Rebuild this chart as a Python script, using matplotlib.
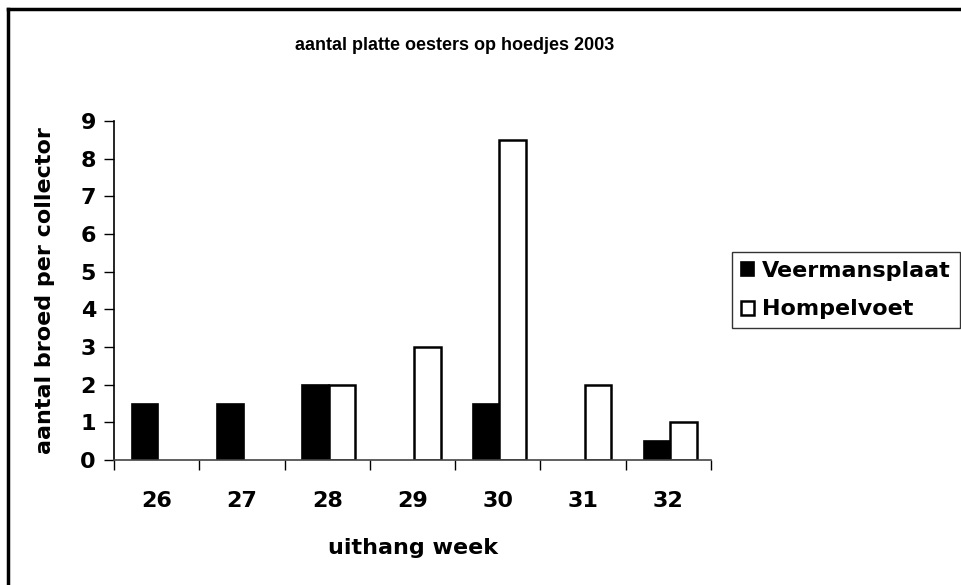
import numpy as np
import matplotlib
matplotlib.use("Agg")
import matplotlib.pyplot as plt
from matplotlib.lines import Line2D

plt.rcParams["font.family"] = ["DejaVu Sans"]
plt.rcParams["font.weight"] = "bold"

# data
weeks = ["26", "27", "28", "29", "30", "31", "32"]
veermansplaat = [1.5, 1.5, 2, 0, 1.5, 0, 0.5]
hompelvoet = [0, 0, 2, 3, 8.5, 2, 1]
y_ticks = list(range(0, 10))

fig = plt.figure(figsize=(9.62, 5.85), dpi=100)
ax = fig.add_axes([114 / 962, 1 - 460 / 585, (711 - 114) / 962, (460 - 121) / 585])

x = np.arange(len(weeks))
w = 0.31
# empty bars get no outline, like the original
edges_v = ["black" if v > 0 else "none" for v in veermansplaat]
edges_h = ["black" if v > 0 else "none" for v in hompelvoet]
ax.bar(x - w + 0.02, veermansplaat, width=w, align="edge", color="black",
       edgecolor=edges_v, linewidth=1.2, label="Veermansplaat")
ax.bar(x + 0.02, hompelvoet, width=w, align="edge", color="white",
       edgecolor=edges_h, linewidth=1.8, label="Hompelvoet")

ax.set_xlim(-0.5, len(weeks) - 0.5)
ax.set_ylim(0, 9)
ax.set_yticks(y_ticks)
ax.set_yticklabels([str(t) for t in y_ticks], fontsize=16, fontweight="bold")
ax.set_xticks(x)
ax.set_xticklabels(weeks, fontsize=16, fontweight="bold")
ax.set_xticks(np.arange(len(weeks) + 1) - 0.5, minor=True)
ax.tick_params(axis="x", which="major", length=0, pad=22)
ax.tick_params(axis="x", which="minor", length=7, width=1, direction="out")
ax.tick_params(axis="y", length=7, width=1, direction="out", pad=6)

for s in ["top", "right"]:
    ax.spines[s].set_visible(False)
ax.spines["left"].set_linewidth(1.2)
ax.spines["bottom"].set_linewidth(1.2)
ax.spines["bottom"].set_color("#444444")

ax.set_xlabel("uithang week", fontsize=16, fontweight="bold", va="center")
ax.xaxis.set_label_coords(0.5, (460 - 548) / 339)
ax.set_ylabel("aantal broed per collector", fontsize=16, fontweight="bold", va="center")
ax.yaxis.set_label_coords((45 - 114) / 597, 0.5)

fig.text(455 / 962, 1 - 45 / 585, "aantal platte oesters op hoedjes 2003",
         ha="center", va="center", fontsize=13, fontweight="bold",
         family="Liberation Sans")

leg = ax.legend(loc="center left", bbox_to_anchor=(732 / 962, 1 - 290 / 585),
                bbox_transform=fig.transFigure, frameon=True, fancybox=False,
                prop={"size": 16, "weight": "bold"}, handlelength=0.6,
                handleheight=0.6, handletextpad=0.35, borderpad=0.4,
                labelspacing=0.85, borderaxespad=0)
leg.get_frame().set_edgecolor("black")
leg.get_frame().set_linewidth(1.0)
for h in leg.legend_handles:
    h.set_edgecolor("black")

# outer frame (left and top edges visible)
fig.add_artist(Line2D([8 / 962, 8 / 962], [0, 1 - 9 / 585], color="black",
                      linewidth=2.5, transform=fig.transFigure))
fig.add_artist(Line2D([8 / 962, 1], [1 - 9 / 585, 1 - 9 / 585], color="black",
                      linewidth=2.5, transform=fig.transFigure))

fig.savefig("out.png", dpi=100)
